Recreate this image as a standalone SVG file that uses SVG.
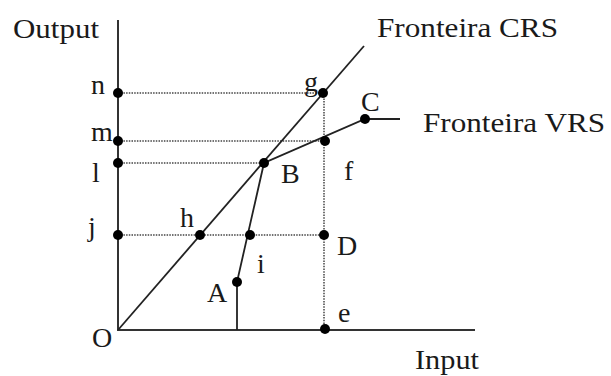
<svg xmlns="http://www.w3.org/2000/svg" width="611" height="376" viewBox="0 0 611 376">
<style>
text{font-family:"Liberation Serif","Times New Roman",serif;font-size:28px;fill:#1a1a1a}
.axis{stroke:#333;stroke-width:2;fill:none}
.ln{stroke:#222;stroke-width:1.8;fill:none}
.dot{stroke:#444;stroke-width:1.5;stroke-dasharray:1.5 1.2;fill:none}
.pt{fill:#000}
</style>
<rect width="611" height="376" fill="#fff"/>
<g id="connectors">
<line class="dot" x1="118" y1="93" x2="323" y2="93"/>
<line class="dot" x1="118" y1="141" x2="325" y2="141"/>
<line class="dot" x1="118" y1="163" x2="264" y2="163"/>
<line class="dot" x1="118" y1="235" x2="324" y2="235"/>
<line class="dot" x1="324" y1="93" x2="324" y2="330"/>
<line class="axis" x1="118" y1="20" x2="118" y2="330"/>
<line class="axis" x1="117" y1="330" x2="475" y2="330"/>
<line id="crs" class="ln" x1="118" y1="330" x2="364" y2="46"/>
<polyline id="vrs" class="ln" points="237,330 237,282 264,163 365,119 400,119"/>
</g>
<g id="axis-labels">
<text x="13" y="38" textLength="86" lengthAdjust="spacingAndGlyphs">Output</text>
<text x="415" y="369" textLength="64" lengthAdjust="spacingAndGlyphs">Input</text>
<text x="92" y="347">O</text>
</g>
<g id="frontier-labels">
<text x="377" y="37" textLength="181" lengthAdjust="spacingAndGlyphs">Fronteira CRS</text>
<text x="423" y="132" textLength="182" lengthAdjust="spacingAndGlyphs">Fronteira VRS</text>
</g>
<g id="node-n"><circle class="pt" cx="118" cy="93" r="5"/><text x="91" y="94">n</text></g>
<g id="node-m"><circle class="pt" cx="118" cy="141" r="5"/><text x="91" y="141">m</text></g>
<g id="node-l"><circle class="pt" cx="118" cy="163" r="5"/><text x="92" y="182">l</text></g>
<g id="node-j"><circle class="pt" cx="118" cy="235" r="5"/><text x="88" y="236">j</text></g>
<g id="node-g"><circle class="pt" cx="323" cy="93" r="5"/><text x="304" y="91">g</text></g>
<g id="node-C"><circle class="pt" cx="365" cy="119" r="5"/><text x="361" y="111">C</text></g>
<g id="node-f"><circle class="pt" cx="325" cy="141" r="5"/><text x="344" y="180">f</text></g>
<g id="node-B"><circle class="pt" cx="264" cy="163" r="5"/><text x="281" y="183">B</text></g>
<g id="node-h"><circle class="pt" cx="200" cy="235" r="5"/><text x="180" y="227">h</text></g>
<g id="node-i"><circle class="pt" cx="250" cy="235" r="5"/><text x="257" y="273">i</text></g>
<g id="node-D"><circle class="pt" cx="324" cy="235" r="5"/><text x="337" y="255">D</text></g>
<g id="node-A"><circle class="pt" cx="237" cy="282" r="5"/><text x="207" y="302">A</text></g>
<g id="node-e"><circle class="pt" cx="325" cy="329" r="5"/><text x="338" y="322">e</text></g>
</svg>
